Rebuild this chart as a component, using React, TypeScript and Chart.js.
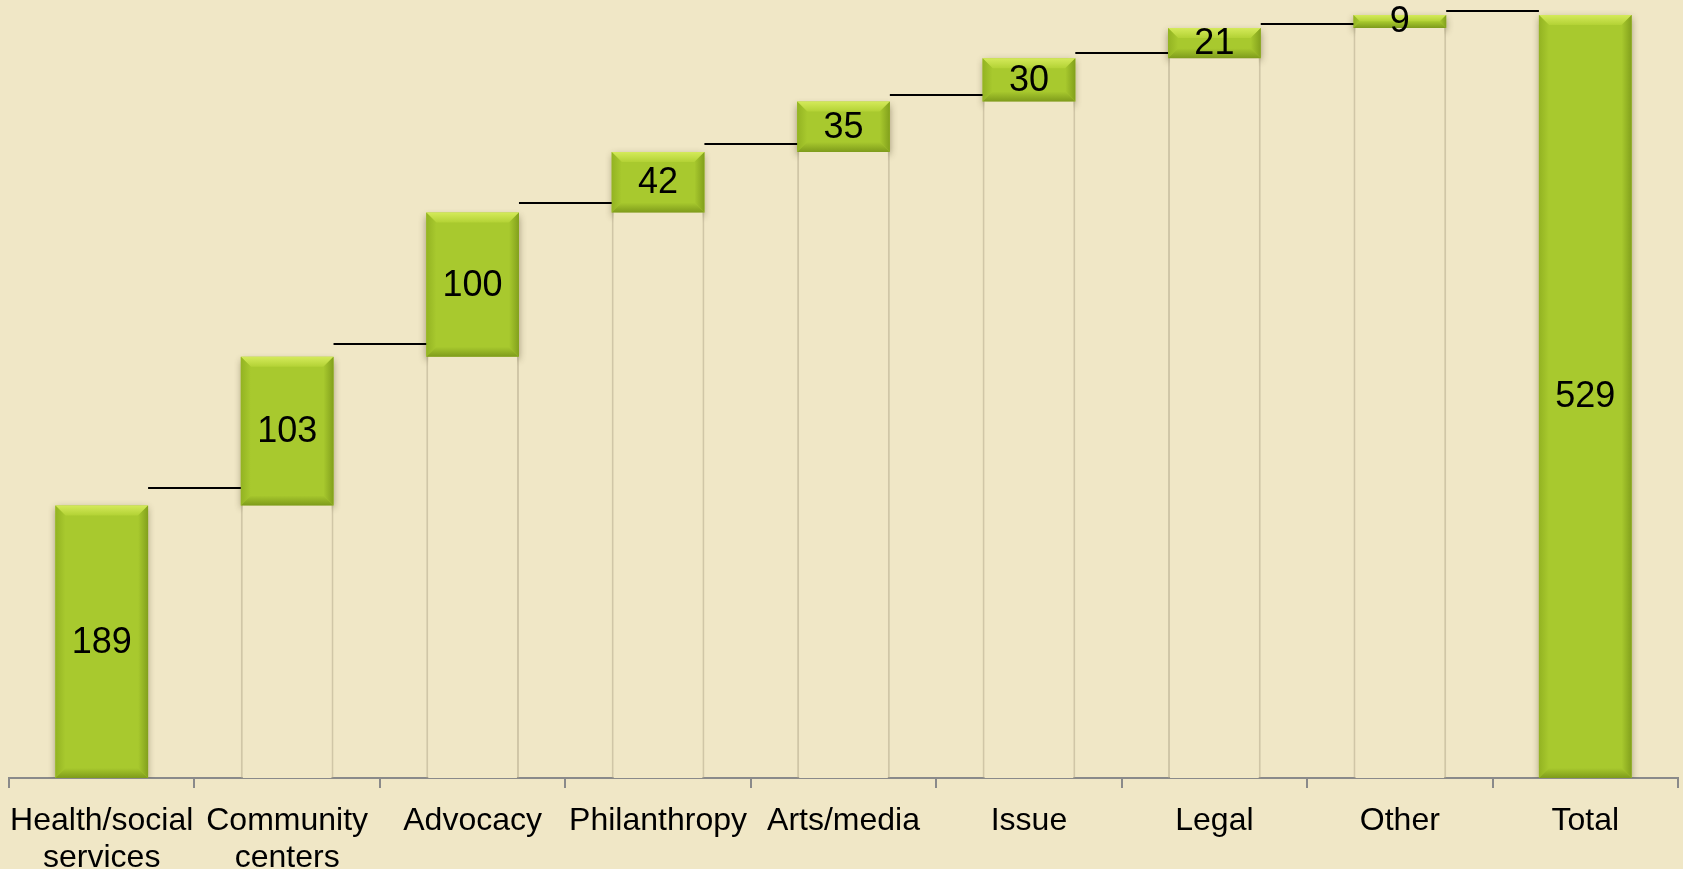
import React, { useEffect, useRef } from "react";
import { Chart, registerables } from "chart.js";

Chart.register(...registerables);

const categories: (string | string[])[] = [
  ["Health/social", "services"],
  ["Community", "centers"],
  "Advocacy",
  "Philanthropy",
  "Arts/media",
  "Issue",
  "Legal",
  "Other",
  "Total",
];
const baseValues = [0, 189, 292, 392, 434, 469, 499, 520, 0];
const barValues = [189, 103, 100, 42, 35, 30, 21, 9, 529];
const connectorValues = [189, 292, 392, 434, 469, 499, 520, 529];

const BG = "#F0E7C6";
const GREEN = "#A8C92E";
const FONT = "'Liberation Sans', Arial, sans-serif";

const shadowPlugin = {
  id: "greenShadow",
  beforeDatasetDraw(chart: any, args: any) {
    if (args.index === 1) {
      const ctx = chart.ctx;
      ctx.save();
      ctx.shadowColor = "rgba(60,50,20,0.45)";
      ctx.shadowBlur = 7;
      ctx.shadowOffsetY = 3;
    }
  },
  afterDatasetDraw(chart: any, args: any) {
    if (args.index === 1) {
      chart.ctx.restore();
      const ctx = chart.ctx;
      const meta = chart.getDatasetMeta(1);
      meta.data.forEach((el: any) => {
        const w = el.width;
        const L = el.x - w / 2;
        const R = el.x + w / 2;
        const T = Math.min(el.y, el.base);
        const B = Math.max(el.y, el.base);
        const b = Math.min(10, (B - T) / 2);
        ctx.save();
        let g = ctx.createLinearGradient(0, T, 0, T + b);
        g.addColorStop(0, "#D4EA5A");
        g.addColorStop(1, "#B3D235");
        ctx.fillStyle = g;
        ctx.beginPath();
        ctx.moveTo(L, T);
        ctx.lineTo(R, T);
        ctx.lineTo(R - b, T + b);
        ctx.lineTo(L + b, T + b);
        ctx.closePath();
        ctx.fill();
        g = ctx.createLinearGradient(L, 0, L + b, 0);
        g.addColorStop(0, "#93B322");
        g.addColorStop(1, GREEN);
        ctx.fillStyle = g;
        ctx.beginPath();
        ctx.moveTo(L, T);
        ctx.lineTo(L + b, T + b);
        ctx.lineTo(L + b, B - b);
        ctx.lineTo(L, B);
        ctx.closePath();
        ctx.fill();
        g = ctx.createLinearGradient(R - b, 0, R, 0);
        g.addColorStop(0, GREEN);
        g.addColorStop(1, "#82A01C");
        ctx.fillStyle = g;
        ctx.beginPath();
        ctx.moveTo(R, T);
        ctx.lineTo(R - b, T + b);
        ctx.lineTo(R - b, B - b);
        ctx.lineTo(R, B);
        ctx.closePath();
        ctx.fill();
        g = ctx.createLinearGradient(0, B - b, 0, B);
        g.addColorStop(0, GREEN);
        g.addColorStop(1, "#7E9B1B");
        ctx.fillStyle = g;
        ctx.beginPath();
        ctx.moveTo(L, B);
        ctx.lineTo(L + b, B - b);
        ctx.lineTo(R - b, B - b);
        ctx.lineTo(R, B);
        ctx.closePath();
        ctx.fill();
        ctx.restore();
      });
    }
  },
};

const overlayPlugin = {
  id: "overlay",
  afterDatasetsDraw(chart: any) {
    const ctx = chart.ctx;
    const meta = chart.getDatasetMeta(1);
    const yLine = chart.scales.yLine;
    ctx.save();
    ctx.strokeStyle = "#000";
    ctx.lineWidth = 2;
    connectorValues.forEach((v, i) => {
      const a = meta.data[i];
      const b = meta.data[i + 1];
      if (!a || !b) return;
      const y = Math.round(yLine.getPixelForValue(v));
      ctx.beginPath();
      ctx.moveTo(a.x + a.width / 2, y);
      ctx.lineTo(b.x - b.width / 2, y);
      ctx.stroke();
    });
    ctx.fillStyle = "#000";
    ctx.font = `36px ${FONT}`;
    ctx.textAlign = "center";
    ctx.textBaseline = "middle";
    meta.data.forEach((el: any, i: number) => {
      const y = (el.y + el.base) / 2 + 1;
      ctx.fillText(String(barValues[i]), el.x, y);
    });
    ctx.restore();
  },
};

export default function App() {
  const ref = useRef<HTMLCanvasElement | null>(null);

  useEffect(() => {
    document.body.style.margin = "0";
    document.body.style.background = BG;
    if (!ref.current) return;
    const chart = new Chart(ref.current, {
      type: "bar",
      data: {
        labels: categories as any,
        datasets: [
          {
            label: "base",
            data: baseValues,
            backgroundColor: BG,
            borderColor: "rgba(175,165,135,0.5)",
            borderWidth: { left: 2, right: 2, top: 0, bottom: 0 } as any,
            borderSkipped: false,
            yAxisID: "y",
          },
          {
            label: "value",
            data: barValues,
            backgroundColor: GREEN,
            borderWidth: 0,
            yAxisID: "y",
          },
        ],
      },
      options: {
        animation: false,
        responsive: true,
        maintainAspectRatio: false,
        datasets: { bar: { barPercentage: 0.5, categoryPercentage: 1 } },
        layout: { padding: { left: 9, right: 5, top: 0, bottom: 0 } },
        plugins: {
          legend: { display: false },
          tooltip: { enabled: false },
        },
        scales: {
          x: {
            stacked: true,
            offset: true,
            grid: {
              offset: true,
              drawOnChartArea: false,
              drawTicks: true,
              tickLength: 10,
              color: "#8A8A8A",
              lineWidth: 2,
            },
            border: { display: true, color: "#8A8A8A", width: 2 },
            ticks: {
              color: "#000",
              font: { family: FONT, size: 32, lineHeight: 1.18 },
              padding: 14,
              maxRotation: 0,
              minRotation: 0,
              autoSkip: false,
            },
            afterFit: (s: any) => {
              s.height = 91;
              s.paddingLeft = 0;
              s.paddingRight = 0;
            },
          },
          y: {
            stacked: true,
            display: false,
            min: 0,
            max: 539.4,
          },
          yLine: {
            display: false,
            min: -17.2,
            max: 536.8,
          },
        },
      },
      plugins: [shadowPlugin, overlayPlugin],
    });
    return () => chart.destroy();
  }, []);

  return (
    <div
      style={{
        position: "fixed",
        left: 0,
        top: 0,
        width: 1683,
        height: 869,
        background: BG,
      }}
    >
      <canvas ref={ref} />
    </div>
  );
}
